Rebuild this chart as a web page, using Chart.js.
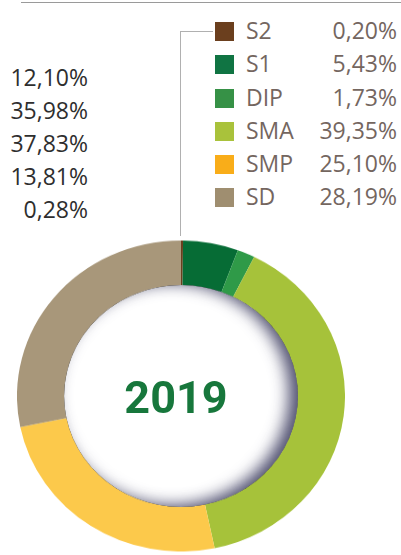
<!DOCTYPE html>
<html>
<head>
<meta charset="utf-8">
<script src="https://cdn.jsdelivr.net/npm/chart.js@4"></script>
<style>
  body { margin: 0; width: 401px; height: 555px; background: #fff; position: relative; overflow: hidden; }
  .abs { position: absolute; }
  #topo { left: 21px; top: 2px; width: 380px; height: 0; border-top: 1.5px solid #9a9a9a; }
  #guia-h { left: 180px; top: 31px; width: 33px; height: 0; border-top: 1.5px solid #b0b0b0; }
  #guia-v { left: 180px; top: 31px; width: 0; height: 205px; border-left: 1.5px solid #b0b0b0; }
  #legenda { left: 215px; top: 21px; width: 182px; font-family: "Open Sans", sans-serif; font-size: 23px; color: #74665f; }
  .linha { position: relative; height: 33.3px; }
  .quad { position: absolute; left: 0; top: 1px; width: 19px; height: 19px; }
  .nome { position: absolute; left: 31px; top: -6px; line-height: 31px; }
  .valor { position: absolute; right: 0; top: -6px; line-height: 31px; }
  #esquerda { left: 0; top: 62px; width: 88px; text-align: right; font-family: "Open Sans", sans-serif; font-size: 23px; color: #2e2e2e; }
  #esquerda div { height: 33px; line-height: 31px; }
  #caixa { left: 17px; top: 232px; width: 328px; height: 328px; transform: scaleY(0.948); transform-origin: 50% 50%; }
  #ano { left: 81px; top: 370px; width: 190px; text-align: center; font-family: Roboto, sans-serif; font-weight: bold; font-size: 45px; color: #17773c; line-height: 56px; }
</style>
</head>
<body>
<div id="topo" class="abs"></div>
<div id="guia-h" class="abs"></div>
<div id="guia-v" class="abs"></div>
<div id="esquerda" class="abs"></div>
<div id="legenda" class="abs"></div>
<div id="caixa" class="abs"><canvas id="grafico"></canvas></div>
<div id="ano" class="abs">2019</div>
<script>
const categorias = ["S2", "S1", "DIP", "SMA", "SMP", "SD"];
const valores = [0.20, 5.43, 1.73, 39.35, 25.10, 28.19];
const coresAnel = ["#6b3f1e", "#066c35", "#2f9a48", "#a6c23a", "#fcc94b", "#a8977a"];
const coresLegenda = ["#6b3f1e", "#107443", "#369146", "#a9c23b", "#f9ad19", "#9f8e70"];
const valoresEsquerda = [12.10, 35.98, 37.83, 13.81, 0.28];

function formatar(v) {
  return v.toFixed(2).replace(".", ",") + "%";
}

const esquerda = document.getElementById("esquerda");
valoresEsquerda.forEach(v => {
  esquerda.innerHTML += `<div>${formatar(v)}</div>`;
});

const legenda = document.getElementById("legenda");
categorias.forEach((c, i) => {
  legenda.innerHTML += `
    <div class="linha">
      <span class="quad" style="background:${coresLegenda[i]}"></span>
      <span class="nome">${c}</span>
      <span class="valor">${formatar(valores[i])}</span>
    </div>`;
});

// sombra interna no furo do anel
const sombraInterna = {
  id: "sombraInterna",
  afterDatasetsDraw(chart) {
    const arco = chart.getDatasetMeta(0).data[0];
    if (!arco) return;
    const { x, y, innerRadius } = arco.getProps(["x", "y", "innerRadius"], true);
    const ctx = chart.ctx;
    ctx.save();
    ctx.beginPath();
    ctx.arc(x, y, innerRadius, 0, Math.PI * 2);
    ctx.clip();
    ctx.shadowColor = "rgba(60,60,95,0.9)";
    ctx.shadowBlur = 16;
    ctx.shadowOffsetX = -9;
    ctx.shadowOffsetY = -2;
    ctx.beginPath();
    ctx.arc(x, y, innerRadius + 40, 0, Math.PI * 2);
    ctx.arc(x, y, innerRadius, 0, Math.PI * 2, true);
    ctx.fillStyle = "#000";
    ctx.fill();
    ctx.restore();
  }
};

new Chart(document.getElementById("grafico"), {
  type: "doughnut",
  data: {
    labels: categorias,
    datasets: [{
      data: valores,
      backgroundColor: coresAnel,
      borderWidth: 0,
      hoverOffset: 0,
      offset: 0
    }]
  },
  options: {
    responsive: true,
    maintainAspectRatio: false,
    animation: false,
    cutout: "71.3%",
    layout: { padding: 0 },
    events: [],
    plugins: {
      legend: { display: false },
      tooltip: { enabled: false }
    }
  },
  plugins: [sombraInterna]
});
</script>
</body>
</html>
